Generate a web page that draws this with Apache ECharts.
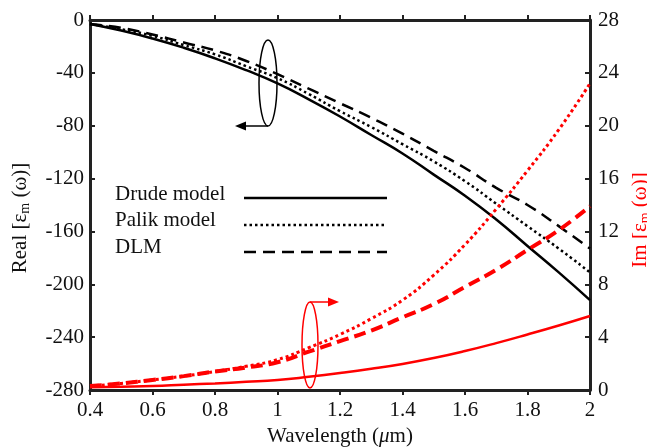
<!DOCTYPE html>
<html>
<head>
<meta charset="utf-8">
<script src="https://cdn.jsdelivr.net/npm/echarts@6/dist/echarts.min.js"></script>
<style>html,body{margin:0;padding:0;background:#fff}#c{width:647px;height:448px}</style>
</head>
<body>
<div id="c"></div>
<script>
var wavelength = [0.4,0.5,0.6,0.7,0.8,0.9,1.0,1.1,1.2,1.3,1.4,1.5,1.6,1.7,1.8,1.9,2.0];
var realDrude = [-3,-8,-14,-21,-29,-38,-48,-60,-73,-87,-101,-117,-133,-151,-171,-191,-212];
var realPalik = [-3,-7,-12,-19,-26,-35,-44,-56,-69,-81,-94,-107,-122,-139,-156,-173,-191];
var realDLM   = [-3,-6,-11,-17,-23,-31,-41,-52,-63,-74,-86,-99,-112,-127,-140,-156,-173];
var imDrude = [0.2,0.25,0.3,0.4,0.5,0.62,0.76,1.0,1.28,1.6,1.97,2.42,2.95,3.55,4.2,4.88,5.6];
var imPalik = [0.3,0.5,0.76,1.05,1.4,1.8,2.3,3.2,4.2,5.4,6.8,8.7,11.0,13.7,16.6,19.7,23.2];
var imDLM   = [0.3,0.5,0.76,1.05,1.4,1.7,2.1,2.9,3.7,4.5,5.5,6.5,7.8,9.1,10.6,12.1,13.9];
var xTicks = [0.4,0.6,0.8,1,1.2,1.4,1.6,1.8,2];
var realTicks = [-280,-240,-200,-160,-120,-80,-40,0];
var imTicks = [0,4,8,12,16,20,24,28];
var legendNames = ['Drude model','Palik model','DLM'];

function pairs(ys){ return wavelength.map(function(x,i){ return [x, ys[i]]; }); }

var FONT = 'Liberation Serif';
var AX = '#222';
var chart = echarts.init(document.getElementById('c'), null, {renderer:'canvas'});

var baseAxisLine = {show:true, lineStyle:{color:AX, width:3}};
var baseTick = {show:true, inside:true, length:5, lineStyle:{color:AX, width:2}};
var labelStyle = {color:'#111', fontFamily:FONT, fontSize:21};

var option = {
  animation:false,
  backgroundColor:'#fff',
  grid:{left:90, right:57, top:20, bottom:58, containLabel:false, outerBoundsMode:'none'},
  xAxis:[{
    type:'value', min:0.4, max:2, position:'bottom',
    axisLine:baseAxisLine, axisTick:Object.assign({customValues:xTicks}, baseTick),
    axisLabel:Object.assign({customValues:xTicks, margin:10}, labelStyle),
    splitLine:{show:false},
    name:'Wavelength ({it|μ}m)', nameLocation:'middle', nameGap:31,
    nameTextStyle:{color:'#111', fontFamily:FONT, fontSize:21,
      rich:{it:{fontStyle:'italic', fontFamily:FONT, fontSize:21, color:'#111'}}}
  },{
    type:'value', min:0.4, max:2, position:'top',
    axisLine:baseAxisLine, axisTick:Object.assign({customValues:xTicks}, baseTick),
    axisLabel:{show:false}, splitLine:{show:false}
  }],
  yAxis:[{
    type:'value', min:-280, max:0, position:'left',
    axisLine:baseAxisLine, axisTick:Object.assign({customValues:realTicks}, baseTick),
    axisLabel:Object.assign({customValues:realTicks, margin:6}, labelStyle),
    splitLine:{show:false},
    name:'Real [ε{sub|m} (ω)]', nameLocation:'middle', nameGap:58, nameRotate:90,
    nameTextStyle:{color:'#111', fontFamily:FONT, fontSize:21, padding:[0,26,0,0],
      rich:{sub:{fontSize:14, fontFamily:FONT, color:'#111', verticalAlign:'bottom', padding:[10,0,0,0]}}}
  },{
    type:'value', min:0, max:28, position:'right',
    axisLine:baseAxisLine, axisTick:Object.assign({customValues:imTicks}, baseTick),
    axisLabel:Object.assign({customValues:imTicks, margin:8}, labelStyle),
    splitLine:{show:false},
    name:'Im [ε{sub|m} (ω)]', nameLocation:'middle', nameGap:31, nameRotate:90,
    nameTextStyle:{color:'#ff0000', fontFamily:FONT, fontSize:21, padding:[0,30,0,0],
      rich:{sub:{fontSize:14, fontFamily:FONT, color:'#ff0000', verticalAlign:'bottom', padding:[10,0,0,0]}}}
  }],
  series:[
    {name:legendNames[0], type:'line', yAxisIndex:0, data:pairs(realDrude), smooth:true, showSymbol:false,
      lineStyle:{color:'#000', width:2.5, type:'solid'}, z:3},
    {name:legendNames[1], type:'line', yAxisIndex:0, data:pairs(realPalik), smooth:true, showSymbol:false,
      lineStyle:{color:'#000', width:2.5, type:[2.5,3]}, z:3},
    {name:legendNames[2], type:'line', yAxisIndex:0, data:pairs(realDLM), smooth:true, showSymbol:false,
      lineStyle:{color:'#000', width:2.5, type:[12,7]}, z:3},
    {name:'Im Drude', type:'line', yAxisIndex:1, data:pairs(imDrude), smooth:true, showSymbol:false,
      lineStyle:{color:'#ff0000', width:2.5, type:'solid'}, z:4},
    {name:'Im Palik', type:'line', yAxisIndex:1, data:pairs(imPalik), smooth:true, showSymbol:false,
      lineStyle:{color:'#ff0000', width:3, type:[3,3]}, z:4},
    {name:'Im DLM', type:'line', yAxisIndex:1, data:pairs(imDLM), smooth:true, showSymbol:false,
      lineStyle:{color:'#ff0000', width:4, type:[12,6]}, z:4}
  ],
  graphic:[
    {type:'text', left:115, top:184, style:{text:legendNames[0], font:'21px "Liberation Serif"', fill:'#111'}},
    {type:'text', left:115, top:210, style:{text:legendNames[1], font:'21px "Liberation Serif"', fill:'#111'}},
    {type:'text', left:115, top:237, style:{text:legendNames[2], font:'21px "Liberation Serif"', fill:'#111'}},
    {type:'line', shape:{x1:244, y1:198, x2:387, y2:198}, style:{stroke:'#000', lineWidth:2.5}},
    {type:'line', shape:{x1:244, y1:225, x2:387, y2:225}, style:{stroke:'#000', lineWidth:2.5, lineDash:[2.5,3]}},
    {type:'line', shape:{x1:244, y1:252, x2:387, y2:252}, style:{stroke:'#000', lineWidth:2.5, lineDash:[12,7]}},
    {type:'ellipse', shape:{cx:268, cy:83, rx:9, ry:43}, style:{fill:null, stroke:'#000', lineWidth:1.5}, z:10},
    {type:'line', shape:{x1:268, y1:126, x2:243, y2:126}, style:{stroke:'#000', lineWidth:1.5}, z:10},
    {type:'polygon', shape:{points:[[235,126],[246,121.5],[246,130.5]]}, style:{fill:'#000'}, z:10},
    {type:'ellipse', shape:{cx:310, cy:345, rx:8, ry:43}, style:{fill:null, stroke:'#ff0000', lineWidth:1.5}, z:10},
    {type:'line', shape:{x1:310, y1:302, x2:330, y2:302}, style:{stroke:'#ff0000', lineWidth:1.5}, z:10},
    {type:'polygon', shape:{points:[[339,302],[328,297.5],[328,306.5]]}, style:{fill:'#ff0000'}, z:10}
  ]
};
chart.setOption(option);
</script>
</body>
</html>
